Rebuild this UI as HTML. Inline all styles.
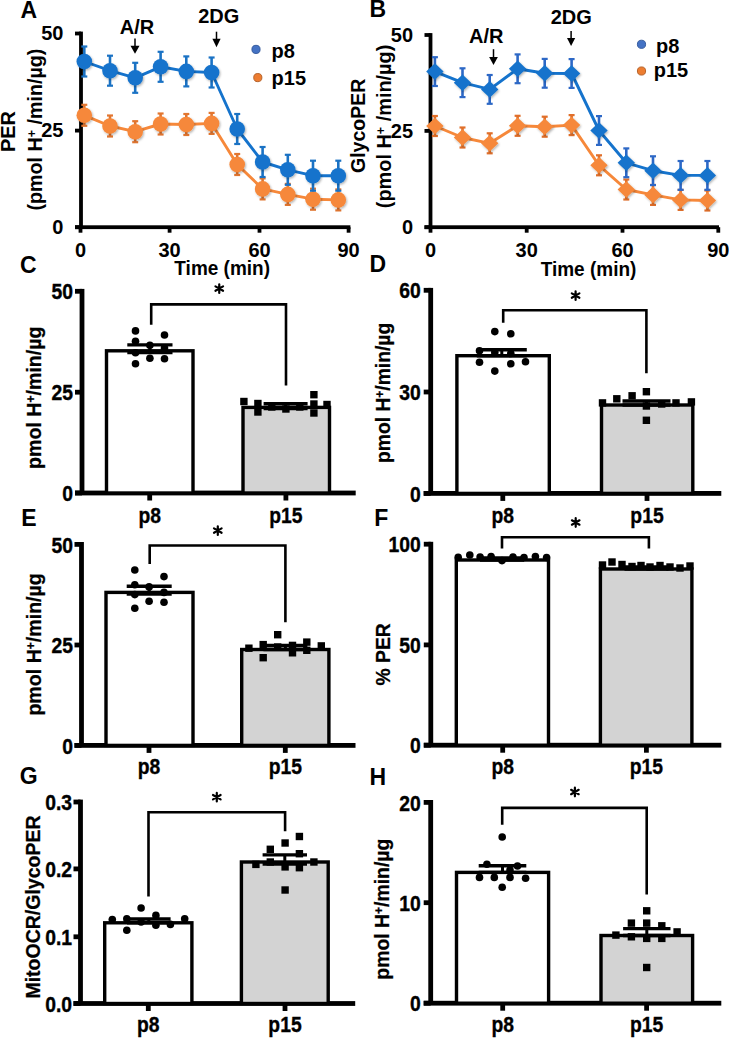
<!DOCTYPE html>
<html><head><meta charset="utf-8"><style>
html,body{margin:0;padding:0;background:#fff;}
svg{display:block;font-family:"Liberation Sans", sans-serif;}
</style></head><body>
<svg width="729" height="1039" viewBox="0 0 729 1039">
<defs><filter id="sh" x="-50%" y="-50%" width="200%" height="200%"><feDropShadow dx="1" dy="1.3" stdDeviation="1" flood-color="#000" flood-opacity="0.3"/></filter></defs>
<rect width="729" height="1039" fill="#fff"/>
<rect x="79.1" y="31.6" width="3.8" height="195.6" fill="#000"/>
<rect x="75" y="31.6" width="6" height="3.8" fill="#000"/>
<rect x="75" y="128.7" width="6" height="3.8" fill="#000"/>
<rect x="75" y="225.29999999999998" width="6" height="3.8" fill="#000"/>
<rect x="75" y="225.29999999999998" width="275.4" height="3.8" fill="#000"/>
<rect x="78.6" y="227.2" width="3.8" height="5.5" fill="#000"/>
<rect x="167.7" y="227.2" width="3.8" height="5.5" fill="#000"/>
<rect x="257.6" y="227.2" width="3.8" height="5.5" fill="#000"/>
<rect x="346.70000000000005" y="227.2" width="3.8" height="5.5" fill="#000"/>
<text transform="translate(63.4 40.1)" font-size="20" text-anchor="end" font-weight="bold">50</text>
<text transform="translate(63.4 137.2)" font-size="20" text-anchor="end" font-weight="bold">25</text>
<text transform="translate(63.4 233.79999999999998)" font-size="20" text-anchor="end" font-weight="bold">0</text>
<text transform="translate(80.5 256.9)" font-size="20" text-anchor="middle" font-weight="bold">0</text>
<text transform="translate(169.6 256.9)" font-size="20" text-anchor="middle" font-weight="bold">30</text>
<text transform="translate(259.5 256.9)" font-size="20" text-anchor="middle" font-weight="bold">60</text>
<text transform="translate(348.6 256.9)" font-size="20" text-anchor="middle" font-weight="bold">90</text>
<text transform="translate(222.2 275.3) scale(1 1.1)" font-size="19" text-anchor="middle" font-weight="bold">Time (min)</text>
<path d="M84.3,115.3 L110,126 L135.2,131.7 L160.6,124 L186.3,124.5 L211.6,123.4 L237.2,164.5 L262.6,188.9 L287.8,194.4 L313,199.2 L338.3,199.9" fill="none" stroke="#f6883a" stroke-width="2.9" stroke-linejoin="round"/>
<line x1="84.3" y1="104.8" x2="84.3" y2="125.8" stroke="#e27630" stroke-width="2.6" stroke-linecap="butt"/>
<line x1="81.3" y1="104.8" x2="87.3" y2="104.8" stroke="#e27630" stroke-width="2.2" stroke-linecap="butt"/>
<line x1="81.3" y1="125.8" x2="87.3" y2="125.8" stroke="#e27630" stroke-width="2.2" stroke-linecap="butt"/>
<line x1="110" y1="115.5" x2="110" y2="136.5" stroke="#e27630" stroke-width="2.6" stroke-linecap="butt"/>
<line x1="107" y1="115.5" x2="113" y2="115.5" stroke="#e27630" stroke-width="2.2" stroke-linecap="butt"/>
<line x1="107" y1="136.5" x2="113" y2="136.5" stroke="#e27630" stroke-width="2.2" stroke-linecap="butt"/>
<line x1="135.2" y1="121.19999999999999" x2="135.2" y2="142.2" stroke="#e27630" stroke-width="2.6" stroke-linecap="butt"/>
<line x1="132.2" y1="121.19999999999999" x2="138.2" y2="121.19999999999999" stroke="#e27630" stroke-width="2.2" stroke-linecap="butt"/>
<line x1="132.2" y1="142.2" x2="138.2" y2="142.2" stroke="#e27630" stroke-width="2.2" stroke-linecap="butt"/>
<line x1="160.6" y1="113.5" x2="160.6" y2="134.5" stroke="#e27630" stroke-width="2.6" stroke-linecap="butt"/>
<line x1="157.6" y1="113.5" x2="163.6" y2="113.5" stroke="#e27630" stroke-width="2.2" stroke-linecap="butt"/>
<line x1="157.6" y1="134.5" x2="163.6" y2="134.5" stroke="#e27630" stroke-width="2.2" stroke-linecap="butt"/>
<line x1="186.3" y1="114.0" x2="186.3" y2="135.0" stroke="#e27630" stroke-width="2.6" stroke-linecap="butt"/>
<line x1="183.3" y1="114.0" x2="189.3" y2="114.0" stroke="#e27630" stroke-width="2.2" stroke-linecap="butt"/>
<line x1="183.3" y1="135.0" x2="189.3" y2="135.0" stroke="#e27630" stroke-width="2.2" stroke-linecap="butt"/>
<line x1="211.6" y1="112.9" x2="211.6" y2="133.9" stroke="#e27630" stroke-width="2.6" stroke-linecap="butt"/>
<line x1="208.6" y1="112.9" x2="214.6" y2="112.9" stroke="#e27630" stroke-width="2.2" stroke-linecap="butt"/>
<line x1="208.6" y1="133.9" x2="214.6" y2="133.9" stroke="#e27630" stroke-width="2.2" stroke-linecap="butt"/>
<line x1="237.2" y1="154.0" x2="237.2" y2="175.0" stroke="#e27630" stroke-width="2.6" stroke-linecap="butt"/>
<line x1="234.2" y1="154.0" x2="240.2" y2="154.0" stroke="#e27630" stroke-width="2.2" stroke-linecap="butt"/>
<line x1="234.2" y1="175.0" x2="240.2" y2="175.0" stroke="#e27630" stroke-width="2.2" stroke-linecap="butt"/>
<line x1="262.6" y1="178.4" x2="262.6" y2="199.4" stroke="#e27630" stroke-width="2.6" stroke-linecap="butt"/>
<line x1="259.6" y1="178.4" x2="265.6" y2="178.4" stroke="#e27630" stroke-width="2.2" stroke-linecap="butt"/>
<line x1="259.6" y1="199.4" x2="265.6" y2="199.4" stroke="#e27630" stroke-width="2.2" stroke-linecap="butt"/>
<line x1="287.8" y1="183.9" x2="287.8" y2="204.9" stroke="#e27630" stroke-width="2.6" stroke-linecap="butt"/>
<line x1="284.8" y1="183.9" x2="290.8" y2="183.9" stroke="#e27630" stroke-width="2.2" stroke-linecap="butt"/>
<line x1="284.8" y1="204.9" x2="290.8" y2="204.9" stroke="#e27630" stroke-width="2.2" stroke-linecap="butt"/>
<line x1="313" y1="188.7" x2="313" y2="209.7" stroke="#e27630" stroke-width="2.6" stroke-linecap="butt"/>
<line x1="310" y1="188.7" x2="316" y2="188.7" stroke="#e27630" stroke-width="2.2" stroke-linecap="butt"/>
<line x1="310" y1="209.7" x2="316" y2="209.7" stroke="#e27630" stroke-width="2.2" stroke-linecap="butt"/>
<line x1="338.3" y1="189.4" x2="338.3" y2="210.4" stroke="#e27630" stroke-width="2.6" stroke-linecap="butt"/>
<line x1="335.3" y1="189.4" x2="341.3" y2="189.4" stroke="#e27630" stroke-width="2.2" stroke-linecap="butt"/>
<line x1="335.3" y1="210.4" x2="341.3" y2="210.4" stroke="#e27630" stroke-width="2.2" stroke-linecap="butt"/>
<circle cx="84.3" cy="115.3" r="7.8" fill="#f6883a" filter="url(#sh)"/>
<circle cx="110" cy="126" r="7.8" fill="#f6883a" filter="url(#sh)"/>
<circle cx="135.2" cy="131.7" r="7.8" fill="#f6883a" filter="url(#sh)"/>
<circle cx="160.6" cy="124" r="7.8" fill="#f6883a" filter="url(#sh)"/>
<circle cx="186.3" cy="124.5" r="7.8" fill="#f6883a" filter="url(#sh)"/>
<circle cx="211.6" cy="123.4" r="7.8" fill="#f6883a" filter="url(#sh)"/>
<circle cx="237.2" cy="164.5" r="7.8" fill="#f6883a" filter="url(#sh)"/>
<circle cx="262.6" cy="188.9" r="7.8" fill="#f6883a" filter="url(#sh)"/>
<circle cx="287.8" cy="194.4" r="7.8" fill="#f6883a" filter="url(#sh)"/>
<circle cx="313" cy="199.2" r="7.8" fill="#f6883a" filter="url(#sh)"/>
<circle cx="338.3" cy="199.9" r="7.8" fill="#f6883a" filter="url(#sh)"/>
<path d="M84.3,61.5 L110,70.7 L135.2,77.8 L160.6,66.8 L186.3,71.4 L211.6,72.5 L237.2,129 L262.6,162 L287.8,169.8 L313,175.7 L338.3,175.7" fill="none" stroke="#1573cc" stroke-width="2.9" stroke-linejoin="round"/>
<line x1="84.3" y1="46.5" x2="84.3" y2="76.5" stroke="#1a72c4" stroke-width="2.6" stroke-linecap="butt"/>
<line x1="81.3" y1="46.5" x2="87.3" y2="46.5" stroke="#1a72c4" stroke-width="2.2" stroke-linecap="butt"/>
<line x1="81.3" y1="76.5" x2="87.3" y2="76.5" stroke="#1a72c4" stroke-width="2.2" stroke-linecap="butt"/>
<line x1="110" y1="55.7" x2="110" y2="85.7" stroke="#1a72c4" stroke-width="2.6" stroke-linecap="butt"/>
<line x1="107" y1="55.7" x2="113" y2="55.7" stroke="#1a72c4" stroke-width="2.2" stroke-linecap="butt"/>
<line x1="107" y1="85.7" x2="113" y2="85.7" stroke="#1a72c4" stroke-width="2.2" stroke-linecap="butt"/>
<line x1="135.2" y1="62.8" x2="135.2" y2="92.8" stroke="#1a72c4" stroke-width="2.6" stroke-linecap="butt"/>
<line x1="132.2" y1="62.8" x2="138.2" y2="62.8" stroke="#1a72c4" stroke-width="2.2" stroke-linecap="butt"/>
<line x1="132.2" y1="92.8" x2="138.2" y2="92.8" stroke="#1a72c4" stroke-width="2.2" stroke-linecap="butt"/>
<line x1="160.6" y1="51.8" x2="160.6" y2="81.8" stroke="#1a72c4" stroke-width="2.6" stroke-linecap="butt"/>
<line x1="157.6" y1="51.8" x2="163.6" y2="51.8" stroke="#1a72c4" stroke-width="2.2" stroke-linecap="butt"/>
<line x1="157.6" y1="81.8" x2="163.6" y2="81.8" stroke="#1a72c4" stroke-width="2.2" stroke-linecap="butt"/>
<line x1="186.3" y1="56.400000000000006" x2="186.3" y2="86.4" stroke="#1a72c4" stroke-width="2.6" stroke-linecap="butt"/>
<line x1="183.3" y1="56.400000000000006" x2="189.3" y2="56.400000000000006" stroke="#1a72c4" stroke-width="2.2" stroke-linecap="butt"/>
<line x1="183.3" y1="86.4" x2="189.3" y2="86.4" stroke="#1a72c4" stroke-width="2.2" stroke-linecap="butt"/>
<line x1="211.6" y1="57.5" x2="211.6" y2="87.5" stroke="#1a72c4" stroke-width="2.6" stroke-linecap="butt"/>
<line x1="208.6" y1="57.5" x2="214.6" y2="57.5" stroke="#1a72c4" stroke-width="2.2" stroke-linecap="butt"/>
<line x1="208.6" y1="87.5" x2="214.6" y2="87.5" stroke="#1a72c4" stroke-width="2.2" stroke-linecap="butt"/>
<line x1="237.2" y1="114" x2="237.2" y2="144" stroke="#1a72c4" stroke-width="2.6" stroke-linecap="butt"/>
<line x1="234.2" y1="114" x2="240.2" y2="114" stroke="#1a72c4" stroke-width="2.2" stroke-linecap="butt"/>
<line x1="234.2" y1="144" x2="240.2" y2="144" stroke="#1a72c4" stroke-width="2.2" stroke-linecap="butt"/>
<line x1="262.6" y1="147" x2="262.6" y2="177" stroke="#1a72c4" stroke-width="2.6" stroke-linecap="butt"/>
<line x1="259.6" y1="147" x2="265.6" y2="147" stroke="#1a72c4" stroke-width="2.2" stroke-linecap="butt"/>
<line x1="259.6" y1="177" x2="265.6" y2="177" stroke="#1a72c4" stroke-width="2.2" stroke-linecap="butt"/>
<line x1="287.8" y1="154.8" x2="287.8" y2="184.8" stroke="#1a72c4" stroke-width="2.6" stroke-linecap="butt"/>
<line x1="284.8" y1="154.8" x2="290.8" y2="154.8" stroke="#1a72c4" stroke-width="2.2" stroke-linecap="butt"/>
<line x1="284.8" y1="184.8" x2="290.8" y2="184.8" stroke="#1a72c4" stroke-width="2.2" stroke-linecap="butt"/>
<line x1="313" y1="160.7" x2="313" y2="190.7" stroke="#1a72c4" stroke-width="2.6" stroke-linecap="butt"/>
<line x1="310" y1="160.7" x2="316" y2="160.7" stroke="#1a72c4" stroke-width="2.2" stroke-linecap="butt"/>
<line x1="310" y1="190.7" x2="316" y2="190.7" stroke="#1a72c4" stroke-width="2.2" stroke-linecap="butt"/>
<line x1="338.3" y1="160.7" x2="338.3" y2="190.7" stroke="#1a72c4" stroke-width="2.6" stroke-linecap="butt"/>
<line x1="335.3" y1="160.7" x2="341.3" y2="160.7" stroke="#1a72c4" stroke-width="2.2" stroke-linecap="butt"/>
<line x1="335.3" y1="190.7" x2="341.3" y2="190.7" stroke="#1a72c4" stroke-width="2.2" stroke-linecap="butt"/>
<circle cx="84.3" cy="61.5" r="7.8" fill="#1573cc" filter="url(#sh)"/>
<circle cx="110" cy="70.7" r="7.8" fill="#1573cc" filter="url(#sh)"/>
<circle cx="135.2" cy="77.8" r="7.8" fill="#1573cc" filter="url(#sh)"/>
<circle cx="160.6" cy="66.8" r="7.8" fill="#1573cc" filter="url(#sh)"/>
<circle cx="186.3" cy="71.4" r="7.8" fill="#1573cc" filter="url(#sh)"/>
<circle cx="211.6" cy="72.5" r="7.8" fill="#1573cc" filter="url(#sh)"/>
<circle cx="237.2" cy="129" r="7.8" fill="#1573cc" filter="url(#sh)"/>
<circle cx="262.6" cy="162" r="7.8" fill="#1573cc" filter="url(#sh)"/>
<circle cx="287.8" cy="169.8" r="7.8" fill="#1573cc" filter="url(#sh)"/>
<circle cx="313" cy="175.7" r="7.8" fill="#1573cc" filter="url(#sh)"/>
<circle cx="338.3" cy="175.7" r="7.8" fill="#1573cc" filter="url(#sh)"/>
<text transform="translate(137 34.1)" font-size="20" text-anchor="middle" font-weight="bold">A/R</text>
<line x1="135" y1="38.6" x2="135" y2="46.7" stroke="#000" stroke-width="1.5" stroke-linecap="butt"/>
<path d="M130.5,45.7 L139.5,45.7 L135,53.8 Z" fill="#000"/>
<text transform="translate(218.8 22.5)" font-size="20" text-anchor="middle" font-weight="bold">2DG</text>
<line x1="216.5" y1="31.7" x2="216.5" y2="39.7" stroke="#000" stroke-width="1.5" stroke-linecap="butt"/>
<path d="M212.4,38.7 L220.6,38.7 L216.5,47.3 Z" fill="#000"/>
<circle cx="256" cy="49.4" r="4.1" fill="#4472c4" stroke="#2f5597" stroke-width="0.9"/>
<text transform="translate(271.6 57.8)" font-size="20" text-anchor="start" font-weight="bold">p8</text>
<circle cx="257.8" cy="77.6" r="4.1" fill="#ed7d31" stroke="#ae5a21" stroke-width="0.9"/>
<text transform="translate(271.6 84.5)" font-size="20" text-anchor="start" font-weight="bold">p15</text>
<text transform="translate(15.2 131.5) rotate(-90)" font-size="20" text-anchor="middle" font-weight="bold">PER</text>
<text transform="translate(41.8 129.6) rotate(-90)" font-size="19.7" text-anchor="middle" font-weight="bold">(pmol H<tspan font-size="12.5" dy="-6">+</tspan><tspan dy="6"> /min/µg)</tspan></text>
<text transform="translate(364.8 125.9) rotate(-90)" font-size="19.5" text-anchor="middle" font-weight="bold">GlycoPER</text>
<text transform="translate(391.2 126.4) rotate(-90)" font-size="19.9" text-anchor="middle" font-weight="bold">(pmol H<tspan font-size="12.5" dy="-6">+</tspan><tspan dy="6"> /min/µg)</tspan></text>
<rect x="428.6" y="33.1" width="3.8" height="194.1" fill="#000"/>
<rect x="424.5" y="33.1" width="6" height="3.8" fill="#000"/>
<rect x="424.5" y="129.0" width="6" height="3.8" fill="#000"/>
<rect x="424.5" y="225.29999999999998" width="6" height="3.8" fill="#000"/>
<rect x="424.5" y="225.29999999999998" width="294.5" height="3.8" fill="#000"/>
<rect x="428.6" y="227.2" width="3.8" height="5.5" fill="#000"/>
<rect x="524.8000000000001" y="227.2" width="3.8" height="5.5" fill="#000"/>
<rect x="620.6" y="227.2" width="3.8" height="5.5" fill="#000"/>
<rect x="716.4" y="227.2" width="3.8" height="5.5" fill="#000"/>
<text transform="translate(413.1 41.6)" font-size="20" text-anchor="end" font-weight="bold">50</text>
<text transform="translate(413.1 137.5)" font-size="20" text-anchor="end" font-weight="bold">25</text>
<text transform="translate(413.1 233.79999999999998)" font-size="20" text-anchor="end" font-weight="bold">0</text>
<text transform="translate(430.5 256.8)" font-size="20" text-anchor="middle" font-weight="bold">0</text>
<text transform="translate(526.7 256.8)" font-size="20" text-anchor="middle" font-weight="bold">30</text>
<text transform="translate(622.5 256.8)" font-size="20" text-anchor="middle" font-weight="bold">60</text>
<text transform="translate(718.3 256.8)" font-size="20" text-anchor="middle" font-weight="bold">90</text>
<text transform="translate(588.5 275.5) scale(1 1.1)" font-size="19" text-anchor="middle" font-weight="bold">Time (min)</text>
<path d="M434.9,126 L462.5,137.5 L489.7,143.3 L517.6,125.8 L544.7,126.7 L571.6,125.1 L599,165.3 L626.3,189.5 L653,194.9 L680.6,199.9 L707.4,200.5" fill="none" stroke="#f6883a" stroke-width="2.9" stroke-linejoin="round"/>
<line x1="434.9" y1="116" x2="434.9" y2="136" stroke="#e06f2a" stroke-width="2.6" stroke-linecap="butt"/>
<line x1="431.9" y1="116" x2="437.9" y2="116" stroke="#e06f2a" stroke-width="2.2" stroke-linecap="butt"/>
<line x1="431.9" y1="136" x2="437.9" y2="136" stroke="#e06f2a" stroke-width="2.2" stroke-linecap="butt"/>
<line x1="462.5" y1="127.5" x2="462.5" y2="147.5" stroke="#e06f2a" stroke-width="2.6" stroke-linecap="butt"/>
<line x1="459.5" y1="127.5" x2="465.5" y2="127.5" stroke="#e06f2a" stroke-width="2.2" stroke-linecap="butt"/>
<line x1="459.5" y1="147.5" x2="465.5" y2="147.5" stroke="#e06f2a" stroke-width="2.2" stroke-linecap="butt"/>
<line x1="489.7" y1="133.3" x2="489.7" y2="153.3" stroke="#e06f2a" stroke-width="2.6" stroke-linecap="butt"/>
<line x1="486.7" y1="133.3" x2="492.7" y2="133.3" stroke="#e06f2a" stroke-width="2.2" stroke-linecap="butt"/>
<line x1="486.7" y1="153.3" x2="492.7" y2="153.3" stroke="#e06f2a" stroke-width="2.2" stroke-linecap="butt"/>
<line x1="517.6" y1="115.8" x2="517.6" y2="135.8" stroke="#e06f2a" stroke-width="2.6" stroke-linecap="butt"/>
<line x1="514.6" y1="115.8" x2="520.6" y2="115.8" stroke="#e06f2a" stroke-width="2.2" stroke-linecap="butt"/>
<line x1="514.6" y1="135.8" x2="520.6" y2="135.8" stroke="#e06f2a" stroke-width="2.2" stroke-linecap="butt"/>
<line x1="544.7" y1="116.7" x2="544.7" y2="136.7" stroke="#e06f2a" stroke-width="2.6" stroke-linecap="butt"/>
<line x1="541.7" y1="116.7" x2="547.7" y2="116.7" stroke="#e06f2a" stroke-width="2.2" stroke-linecap="butt"/>
<line x1="541.7" y1="136.7" x2="547.7" y2="136.7" stroke="#e06f2a" stroke-width="2.2" stroke-linecap="butt"/>
<line x1="571.6" y1="115.1" x2="571.6" y2="135.1" stroke="#e06f2a" stroke-width="2.6" stroke-linecap="butt"/>
<line x1="568.6" y1="115.1" x2="574.6" y2="115.1" stroke="#e06f2a" stroke-width="2.2" stroke-linecap="butt"/>
<line x1="568.6" y1="135.1" x2="574.6" y2="135.1" stroke="#e06f2a" stroke-width="2.2" stroke-linecap="butt"/>
<line x1="599" y1="155.3" x2="599" y2="175.3" stroke="#e06f2a" stroke-width="2.6" stroke-linecap="butt"/>
<line x1="596" y1="155.3" x2="602" y2="155.3" stroke="#e06f2a" stroke-width="2.2" stroke-linecap="butt"/>
<line x1="596" y1="175.3" x2="602" y2="175.3" stroke="#e06f2a" stroke-width="2.2" stroke-linecap="butt"/>
<line x1="626.3" y1="179.5" x2="626.3" y2="199.5" stroke="#e06f2a" stroke-width="2.6" stroke-linecap="butt"/>
<line x1="623.3" y1="179.5" x2="629.3" y2="179.5" stroke="#e06f2a" stroke-width="2.2" stroke-linecap="butt"/>
<line x1="623.3" y1="199.5" x2="629.3" y2="199.5" stroke="#e06f2a" stroke-width="2.2" stroke-linecap="butt"/>
<line x1="653" y1="184.9" x2="653" y2="204.9" stroke="#e06f2a" stroke-width="2.6" stroke-linecap="butt"/>
<line x1="650" y1="184.9" x2="656" y2="184.9" stroke="#e06f2a" stroke-width="2.2" stroke-linecap="butt"/>
<line x1="650" y1="204.9" x2="656" y2="204.9" stroke="#e06f2a" stroke-width="2.2" stroke-linecap="butt"/>
<line x1="680.6" y1="189.9" x2="680.6" y2="209.9" stroke="#e06f2a" stroke-width="2.6" stroke-linecap="butt"/>
<line x1="677.6" y1="189.9" x2="683.6" y2="189.9" stroke="#e06f2a" stroke-width="2.2" stroke-linecap="butt"/>
<line x1="677.6" y1="209.9" x2="683.6" y2="209.9" stroke="#e06f2a" stroke-width="2.2" stroke-linecap="butt"/>
<line x1="707.4" y1="190.5" x2="707.4" y2="210.5" stroke="#e06f2a" stroke-width="2.6" stroke-linecap="butt"/>
<line x1="704.4" y1="190.5" x2="710.4" y2="190.5" stroke="#e06f2a" stroke-width="2.2" stroke-linecap="butt"/>
<line x1="704.4" y1="210.5" x2="710.4" y2="210.5" stroke="#e06f2a" stroke-width="2.2" stroke-linecap="butt"/>
<path d="M434.9,117.7 L443.59999999999997,126 L434.9,134.3 L426.2,126 Z" fill="#f6883a" filter="url(#sh)"/>
<path d="M462.5,129.2 L471.2,137.5 L462.5,145.8 L453.8,137.5 Z" fill="#f6883a" filter="url(#sh)"/>
<path d="M489.7,135.0 L498.4,143.3 L489.7,151.60000000000002 L481.0,143.3 Z" fill="#f6883a" filter="url(#sh)"/>
<path d="M517.6,117.5 L526.3000000000001,125.8 L517.6,134.1 L508.90000000000003,125.8 Z" fill="#f6883a" filter="url(#sh)"/>
<path d="M544.7,118.4 L553.4000000000001,126.7 L544.7,135.0 L536.0,126.7 Z" fill="#f6883a" filter="url(#sh)"/>
<path d="M571.6,116.8 L580.3000000000001,125.1 L571.6,133.4 L562.9,125.1 Z" fill="#f6883a" filter="url(#sh)"/>
<path d="M599,157.0 L607.7,165.3 L599,173.60000000000002 L590.3,165.3 Z" fill="#f6883a" filter="url(#sh)"/>
<path d="M626.3,181.2 L635.0,189.5 L626.3,197.8 L617.5999999999999,189.5 Z" fill="#f6883a" filter="url(#sh)"/>
<path d="M653,186.6 L661.7,194.9 L653,203.20000000000002 L644.3,194.9 Z" fill="#f6883a" filter="url(#sh)"/>
<path d="M680.6,191.6 L689.3000000000001,199.9 L680.6,208.20000000000002 L671.9,199.9 Z" fill="#f6883a" filter="url(#sh)"/>
<path d="M707.4,192.2 L716.1,200.5 L707.4,208.8 L698.6999999999999,200.5 Z" fill="#f6883a" filter="url(#sh)"/>
<path d="M434.9,71.6 L462.5,82.7 L489.7,89.4 L517.6,68.8 L544.7,73.3 L571.6,73.5 L599,130.5 L626.3,162.8 L653,170.7 L680.6,175.4 L707.4,175.4" fill="none" stroke="#1573cc" stroke-width="2.9" stroke-linejoin="round"/>
<line x1="434.9" y1="57.199999999999996" x2="434.9" y2="86.0" stroke="#2d68c6" stroke-width="2.6" stroke-linecap="butt"/>
<line x1="431.9" y1="57.199999999999996" x2="437.9" y2="57.199999999999996" stroke="#2d68c6" stroke-width="2.2" stroke-linecap="butt"/>
<line x1="431.9" y1="86.0" x2="437.9" y2="86.0" stroke="#2d68c6" stroke-width="2.2" stroke-linecap="butt"/>
<line x1="462.5" y1="68.3" x2="462.5" y2="97.10000000000001" stroke="#2d68c6" stroke-width="2.6" stroke-linecap="butt"/>
<line x1="459.5" y1="68.3" x2="465.5" y2="68.3" stroke="#2d68c6" stroke-width="2.2" stroke-linecap="butt"/>
<line x1="459.5" y1="97.10000000000001" x2="465.5" y2="97.10000000000001" stroke="#2d68c6" stroke-width="2.2" stroke-linecap="butt"/>
<line x1="489.7" y1="75.0" x2="489.7" y2="103.80000000000001" stroke="#2d68c6" stroke-width="2.6" stroke-linecap="butt"/>
<line x1="486.7" y1="75.0" x2="492.7" y2="75.0" stroke="#2d68c6" stroke-width="2.2" stroke-linecap="butt"/>
<line x1="486.7" y1="103.80000000000001" x2="492.7" y2="103.80000000000001" stroke="#2d68c6" stroke-width="2.2" stroke-linecap="butt"/>
<line x1="517.6" y1="54.4" x2="517.6" y2="83.2" stroke="#2d68c6" stroke-width="2.6" stroke-linecap="butt"/>
<line x1="514.6" y1="54.4" x2="520.6" y2="54.4" stroke="#2d68c6" stroke-width="2.2" stroke-linecap="butt"/>
<line x1="514.6" y1="83.2" x2="520.6" y2="83.2" stroke="#2d68c6" stroke-width="2.2" stroke-linecap="butt"/>
<line x1="544.7" y1="58.9" x2="544.7" y2="87.7" stroke="#2d68c6" stroke-width="2.6" stroke-linecap="butt"/>
<line x1="541.7" y1="58.9" x2="547.7" y2="58.9" stroke="#2d68c6" stroke-width="2.2" stroke-linecap="butt"/>
<line x1="541.7" y1="87.7" x2="547.7" y2="87.7" stroke="#2d68c6" stroke-width="2.2" stroke-linecap="butt"/>
<line x1="571.6" y1="59.1" x2="571.6" y2="87.9" stroke="#2d68c6" stroke-width="2.6" stroke-linecap="butt"/>
<line x1="568.6" y1="59.1" x2="574.6" y2="59.1" stroke="#2d68c6" stroke-width="2.2" stroke-linecap="butt"/>
<line x1="568.6" y1="87.9" x2="574.6" y2="87.9" stroke="#2d68c6" stroke-width="2.2" stroke-linecap="butt"/>
<line x1="599" y1="116.1" x2="599" y2="144.9" stroke="#2d68c6" stroke-width="2.6" stroke-linecap="butt"/>
<line x1="596" y1="116.1" x2="602" y2="116.1" stroke="#2d68c6" stroke-width="2.2" stroke-linecap="butt"/>
<line x1="596" y1="144.9" x2="602" y2="144.9" stroke="#2d68c6" stroke-width="2.2" stroke-linecap="butt"/>
<line x1="626.3" y1="148.4" x2="626.3" y2="177.20000000000002" stroke="#2d68c6" stroke-width="2.6" stroke-linecap="butt"/>
<line x1="623.3" y1="148.4" x2="629.3" y2="148.4" stroke="#2d68c6" stroke-width="2.2" stroke-linecap="butt"/>
<line x1="623.3" y1="177.20000000000002" x2="629.3" y2="177.20000000000002" stroke="#2d68c6" stroke-width="2.2" stroke-linecap="butt"/>
<line x1="653" y1="156.29999999999998" x2="653" y2="185.1" stroke="#2d68c6" stroke-width="2.6" stroke-linecap="butt"/>
<line x1="650" y1="156.29999999999998" x2="656" y2="156.29999999999998" stroke="#2d68c6" stroke-width="2.2" stroke-linecap="butt"/>
<line x1="650" y1="185.1" x2="656" y2="185.1" stroke="#2d68c6" stroke-width="2.2" stroke-linecap="butt"/>
<line x1="680.6" y1="161.0" x2="680.6" y2="189.8" stroke="#2d68c6" stroke-width="2.6" stroke-linecap="butt"/>
<line x1="677.6" y1="161.0" x2="683.6" y2="161.0" stroke="#2d68c6" stroke-width="2.2" stroke-linecap="butt"/>
<line x1="677.6" y1="189.8" x2="683.6" y2="189.8" stroke="#2d68c6" stroke-width="2.2" stroke-linecap="butt"/>
<line x1="707.4" y1="161.0" x2="707.4" y2="189.8" stroke="#2d68c6" stroke-width="2.6" stroke-linecap="butt"/>
<line x1="704.4" y1="161.0" x2="710.4" y2="161.0" stroke="#2d68c6" stroke-width="2.2" stroke-linecap="butt"/>
<line x1="704.4" y1="189.8" x2="710.4" y2="189.8" stroke="#2d68c6" stroke-width="2.2" stroke-linecap="butt"/>
<path d="M434.9,63.3 L443.59999999999997,71.6 L434.9,79.89999999999999 L426.2,71.6 Z" fill="#1573cc" filter="url(#sh)"/>
<path d="M462.5,74.4 L471.2,82.7 L462.5,91.0 L453.8,82.7 Z" fill="#1573cc" filter="url(#sh)"/>
<path d="M489.7,81.10000000000001 L498.4,89.4 L489.7,97.7 L481.0,89.4 Z" fill="#1573cc" filter="url(#sh)"/>
<path d="M517.6,60.5 L526.3000000000001,68.8 L517.6,77.1 L508.90000000000003,68.8 Z" fill="#1573cc" filter="url(#sh)"/>
<path d="M544.7,65.0 L553.4000000000001,73.3 L544.7,81.6 L536.0,73.3 Z" fill="#1573cc" filter="url(#sh)"/>
<path d="M571.6,65.2 L580.3000000000001,73.5 L571.6,81.8 L562.9,73.5 Z" fill="#1573cc" filter="url(#sh)"/>
<path d="M599,122.2 L607.7,130.5 L599,138.8 L590.3,130.5 Z" fill="#1573cc" filter="url(#sh)"/>
<path d="M626.3,154.5 L635.0,162.8 L626.3,171.10000000000002 L617.5999999999999,162.8 Z" fill="#1573cc" filter="url(#sh)"/>
<path d="M653,162.39999999999998 L661.7,170.7 L653,179.0 L644.3,170.7 Z" fill="#1573cc" filter="url(#sh)"/>
<path d="M680.6,167.1 L689.3000000000001,175.4 L680.6,183.70000000000002 L671.9,175.4 Z" fill="#1573cc" filter="url(#sh)"/>
<path d="M707.4,167.1 L716.1,175.4 L707.4,183.70000000000002 L698.6999999999999,175.4 Z" fill="#1573cc" filter="url(#sh)"/>
<text transform="translate(486.3 43)" font-size="20" text-anchor="middle" font-weight="bold">A/R</text>
<line x1="493.5" y1="49.2" x2="493.5" y2="58" stroke="#000" stroke-width="1.5" stroke-linecap="butt"/>
<path d="M489.15,57 L497.85,57 L493.5,64.9 Z" fill="#000"/>
<text transform="translate(571.2 24.3)" font-size="20" text-anchor="middle" font-weight="bold">2DG</text>
<line x1="571.1" y1="30.9" x2="571.1" y2="38.9" stroke="#000" stroke-width="1.5" stroke-linecap="butt"/>
<path d="M567.0,37.9 L575.2,37.9 L571.1,46.1 Z" fill="#000"/>
<circle cx="641.5" cy="44.3" r="4.1" fill="#4472c4" stroke="#2f5597" stroke-width="0.9"/>
<text transform="translate(656.1 52.6)" font-size="20" text-anchor="start" font-weight="bold">p8</text>
<circle cx="641.5" cy="71" r="4.1" fill="#ed7d31" stroke="#ae5a21" stroke-width="0.9"/>
<text transform="translate(653.7 76.7)" font-size="20" text-anchor="start" font-weight="bold">p15</text>
<rect x="79.6" y="288.90000000000003" width="4.8" height="204.1" fill="#000"/>
<rect x="75" y="490.6" width="7" height="4.8" fill="#000"/>
<text transform="translate(73 501.1) scale(1 1.16)" font-size="19.3" text-anchor="end" font-weight="bold" stroke="#000" stroke-width="0.35">0</text>
<rect x="75" y="389.8" width="7" height="4.8" fill="#000"/>
<text transform="translate(73 400.3) scale(1 1.16)" font-size="19.3" text-anchor="end" font-weight="bold" stroke="#000" stroke-width="0.35">25</text>
<rect x="75" y="288.90000000000003" width="7" height="4.8" fill="#000"/>
<text transform="translate(73 299.40000000000003) scale(1 1.16)" font-size="19.3" text-anchor="end" font-weight="bold" stroke="#000" stroke-width="0.35">50</text>
<rect x="75" y="490.6" width="280.7" height="4.8" fill="#000"/>
<rect x="106.5" y="350.8" width="86.5" height="142.2" fill="#fff" stroke="#000" stroke-width="3.4"/>
<rect x="243" y="407.4" width="86.5" height="85.60000000000002" fill="#d3d3d3" stroke="#000" stroke-width="3.4"/>
<line x1="127.30000000000001" y1="344.9" x2="172.5" y2="344.9" stroke="#000" stroke-width="3.4" stroke-linecap="butt"/>
<line x1="127.30000000000001" y1="352.5" x2="172.5" y2="352.5" stroke="#000" stroke-width="3.4" stroke-linecap="butt"/>
<line x1="149.9" y1="344.9" x2="149.9" y2="352.5" stroke="#000" stroke-width="3" stroke-linecap="butt"/>
<line x1="263.6" y1="403.8" x2="307.6" y2="403.8" stroke="#000" stroke-width="3.4" stroke-linecap="butt"/>
<line x1="263.6" y1="408.5" x2="307.6" y2="408.5" stroke="#000" stroke-width="3.4" stroke-linecap="butt"/>
<line x1="285.6" y1="403.8" x2="285.6" y2="408.5" stroke="#000" stroke-width="3" stroke-linecap="butt"/>
<rect x="147.29999999999998" y="493" width="4.8" height="7.5" fill="#000"/>
<text transform="translate(149.7 522.8) scale(1 1.12)" font-size="19.3" text-anchor="middle" font-weight="bold" stroke="#000" stroke-width="0.3">p8</text>
<rect x="283.5" y="493" width="4.8" height="7.5" fill="#000"/>
<text transform="translate(285.9 522.8) scale(1 1.12)" font-size="19.3" text-anchor="middle" font-weight="bold" stroke="#000" stroke-width="0.3">p15</text>
<circle cx="135.5" cy="330.9" r="3.8" fill="#000"/>
<circle cx="164.5" cy="335" r="3.8" fill="#000"/>
<circle cx="135.5" cy="341.2" r="3.8" fill="#000"/>
<circle cx="149.9" cy="345.3" r="3.8" fill="#000"/>
<circle cx="164.5" cy="348" r="3.8" fill="#000"/>
<circle cx="135.5" cy="352.8" r="3.8" fill="#000"/>
<circle cx="149.9" cy="358.3" r="3.8" fill="#000"/>
<circle cx="164.5" cy="358.7" r="3.8" fill="#000"/>
<circle cx="135.5" cy="363.8" r="3.8" fill="#000"/>
<rect x="240.2" y="397.8" width="7.4" height="7.4" fill="#000"/>
<rect x="254.2" y="399.8" width="7.4" height="7.4" fill="#000"/>
<rect x="254.2" y="408.3" width="7.4" height="7.4" fill="#000"/>
<rect x="268.1" y="403.3" width="7.4" height="7.4" fill="#000"/>
<rect x="282.2" y="405.3" width="7.4" height="7.4" fill="#000"/>
<rect x="296.1" y="403.3" width="7.4" height="7.4" fill="#000"/>
<rect x="310.2" y="391.0" width="7.4" height="7.4" fill="#000"/>
<rect x="310.2" y="400.3" width="7.4" height="7.4" fill="#000"/>
<rect x="310.2" y="409.3" width="7.4" height="7.4" fill="#000"/>
<rect x="323.3" y="400.8" width="7.4" height="7.4" fill="#000"/>
<path d="M151.2,324.7 L151.2,304.4 L286,304.4 L286,385.5" fill="none" stroke="#000" stroke-width="2.6"/>
<path d="M219.25,284.3 V292.90000000000003 M215.45,286.40000000000003 L223.05,290.8 M215.45,290.8 L223.05,286.40000000000003" stroke="#000" stroke-width="2.2" stroke-linecap="round"/>
<text transform="translate(41 397.7) rotate(-90)" font-size="19.6" text-anchor="middle" font-weight="bold" stroke="#000" stroke-width="0.25">pmol H<tspan font-size="12" dy="-6">+</tspan><tspan dy="6">/min/µg</tspan></text>
<rect x="428.3" y="287.90000000000003" width="4.8" height="205.49999999999997" fill="#000"/>
<rect x="423.7" y="491.0" width="7" height="4.8" fill="#000"/>
<text transform="translate(420.8 501.5) scale(1 1.16)" font-size="19.3" text-anchor="end" font-weight="bold" stroke="#000" stroke-width="0.35">0</text>
<rect x="423.7" y="389.6" width="7" height="4.8" fill="#000"/>
<text transform="translate(420.8 400.1) scale(1 1.16)" font-size="19.3" text-anchor="end" font-weight="bold" stroke="#000" stroke-width="0.35">30</text>
<rect x="423.7" y="287.90000000000003" width="7" height="4.8" fill="#000"/>
<text transform="translate(420.8 298.40000000000003) scale(1 1.16)" font-size="19.3" text-anchor="end" font-weight="bold" stroke="#000" stroke-width="0.35">60</text>
<rect x="423.7" y="491.0" width="297.59999999999997" height="4.8" fill="#000"/>
<rect x="456.9" y="355.7" width="92.39999999999998" height="137.7" fill="#fff" stroke="#000" stroke-width="3.4"/>
<rect x="601.5" y="405" width="91.29999999999995" height="88.39999999999998" fill="#d3d3d3" stroke="#000" stroke-width="3.4"/>
<line x1="476.8" y1="349.8" x2="526.8" y2="349.8" stroke="#000" stroke-width="3.4" stroke-linecap="butt"/>
<line x1="476.8" y1="355.7" x2="526.8" y2="355.7" stroke="#000" stroke-width="3.4" stroke-linecap="butt"/>
<line x1="501.8" y1="349.8" x2="501.8" y2="355.7" stroke="#000" stroke-width="3" stroke-linecap="butt"/>
<line x1="622.5" y1="401" x2="670.5" y2="401" stroke="#000" stroke-width="3.4" stroke-linecap="butt"/>
<line x1="622.5" y1="405" x2="670.5" y2="405" stroke="#000" stroke-width="3.4" stroke-linecap="butt"/>
<line x1="646.5" y1="401" x2="646.5" y2="405" stroke="#000" stroke-width="3" stroke-linecap="butt"/>
<rect x="500.40000000000003" y="493.4" width="4.8" height="7.5" fill="#000"/>
<text transform="translate(502.8 522.8) scale(1 1.12)" font-size="19.3" text-anchor="middle" font-weight="bold" stroke="#000" stroke-width="0.3">p8</text>
<rect x="644.6" y="493.4" width="4.8" height="7.5" fill="#000"/>
<text transform="translate(647 522.8) scale(1 1.12)" font-size="19.3" text-anchor="middle" font-weight="bold" stroke="#000" stroke-width="0.3">p15</text>
<circle cx="494.8" cy="331.6" r="3.8" fill="#000"/>
<circle cx="510.8" cy="333.8" r="3.8" fill="#000"/>
<circle cx="479.5" cy="350.7" r="3.8" fill="#000"/>
<circle cx="494.8" cy="352.4" r="3.8" fill="#000"/>
<circle cx="510.8" cy="353.5" r="3.8" fill="#000"/>
<circle cx="479.5" cy="362.3" r="3.8" fill="#000"/>
<circle cx="510.8" cy="363.8" r="3.8" fill="#000"/>
<circle cx="525.5" cy="361.7" r="3.8" fill="#000"/>
<circle cx="494.8" cy="371.1" r="3.8" fill="#000"/>
<rect x="598.8" y="399.2" width="7.4" height="7.4" fill="#000"/>
<rect x="613.1" y="395.1" width="7.4" height="7.4" fill="#000"/>
<rect x="628.4" y="392.1" width="7.4" height="7.4" fill="#000"/>
<rect x="642.7" y="388.0" width="7.4" height="7.4" fill="#000"/>
<rect x="642.7" y="402.3" width="7.4" height="7.4" fill="#000"/>
<rect x="642.7" y="416.6" width="7.4" height="7.4" fill="#000"/>
<rect x="658.0" y="400.3" width="7.4" height="7.4" fill="#000"/>
<rect x="672.3" y="399.2" width="7.4" height="7.4" fill="#000"/>
<rect x="687.7" y="398.2" width="7.4" height="7.4" fill="#000"/>
<path d="M503.2,322.8 L503.2,310.3 L646.4,310.3 L646.4,373.3" fill="none" stroke="#000" stroke-width="2.6"/>
<path d="M575.6,291.3 V299.90000000000003 M571.8000000000001,293.40000000000003 L579.4,297.8 M571.8000000000001,297.8 L579.4,293.40000000000003" stroke="#000" stroke-width="2.2" stroke-linecap="round"/>
<text transform="translate(390 392.9) rotate(-90)" font-size="19.3" text-anchor="middle" font-weight="bold" stroke="#000" stroke-width="0.25">pmol H<tspan font-size="12" dy="-6">+</tspan><tspan dy="6">/min/µg</tspan></text>
<rect x="79.1" y="542.0" width="4.8" height="203.4" fill="#000"/>
<rect x="74.5" y="743.0" width="7" height="4.8" fill="#000"/>
<text transform="translate(73 753.5) scale(1 1.16)" font-size="19.3" text-anchor="end" font-weight="bold" stroke="#000" stroke-width="0.35">0</text>
<rect x="74.5" y="642.6" width="7" height="4.8" fill="#000"/>
<text transform="translate(73 653.1) scale(1 1.16)" font-size="19.3" text-anchor="end" font-weight="bold" stroke="#000" stroke-width="0.35">25</text>
<rect x="74.5" y="542.0" width="7" height="4.8" fill="#000"/>
<text transform="translate(73 552.5) scale(1 1.16)" font-size="19.3" text-anchor="end" font-weight="bold" stroke="#000" stroke-width="0.35">50</text>
<rect x="74.5" y="743.0" width="281.0" height="4.8" fill="#000"/>
<rect x="106" y="592.4" width="87" height="153.0" fill="#fff" stroke="#000" stroke-width="3.4"/>
<rect x="241.7" y="649.5" width="87.19999999999999" height="95.89999999999998" fill="#d3d3d3" stroke="#000" stroke-width="3.4"/>
<line x1="126.69999999999999" y1="586.3" x2="171.7" y2="586.3" stroke="#000" stroke-width="3.4" stroke-linecap="butt"/>
<line x1="126.69999999999999" y1="594" x2="171.7" y2="594" stroke="#000" stroke-width="3.4" stroke-linecap="butt"/>
<line x1="149.2" y1="586.3" x2="149.2" y2="594" stroke="#000" stroke-width="3" stroke-linecap="butt"/>
<line x1="263.4" y1="645.5" x2="307.4" y2="645.5" stroke="#000" stroke-width="3.4" stroke-linecap="butt"/>
<line x1="263.4" y1="649.5" x2="307.4" y2="649.5" stroke="#000" stroke-width="3.4" stroke-linecap="butt"/>
<line x1="285.4" y1="645.5" x2="285.4" y2="649.5" stroke="#000" stroke-width="3" stroke-linecap="butt"/>
<rect x="146.6" y="745.4" width="4.8" height="7.5" fill="#000"/>
<text transform="translate(149 774) scale(1 1.12)" font-size="19.3" text-anchor="middle" font-weight="bold" stroke="#000" stroke-width="0.3">p8</text>
<rect x="282.90000000000003" y="745.4" width="4.8" height="7.5" fill="#000"/>
<text transform="translate(285.3 774) scale(1 1.12)" font-size="19.3" text-anchor="middle" font-weight="bold" stroke="#000" stroke-width="0.3">p15</text>
<circle cx="134.8" cy="570" r="3.8" fill="#000"/>
<circle cx="164" cy="576.6" r="3.8" fill="#000"/>
<circle cx="134.8" cy="584.7" r="3.8" fill="#000"/>
<circle cx="149.1" cy="586.9" r="3.8" fill="#000"/>
<circle cx="134.8" cy="594.6" r="3.8" fill="#000"/>
<circle cx="164" cy="592.4" r="3.8" fill="#000"/>
<circle cx="149.1" cy="601.2" r="3.8" fill="#000"/>
<circle cx="164" cy="602.3" r="3.8" fill="#000"/>
<circle cx="134.8" cy="608.2" r="3.8" fill="#000"/>
<rect x="245.2" y="644.5" width="7.4" height="7.4" fill="#000"/>
<rect x="259.5" y="640.9" width="7.4" height="7.4" fill="#000"/>
<rect x="259.5" y="654.0" width="7.4" height="7.4" fill="#000"/>
<rect x="274.0" y="631.0" width="7.4" height="7.4" fill="#000"/>
<rect x="274.0" y="643.3" width="7.4" height="7.4" fill="#000"/>
<rect x="288.8" y="641.7" width="7.4" height="7.4" fill="#000"/>
<rect x="288.8" y="649.1" width="7.4" height="7.4" fill="#000"/>
<rect x="303.1" y="638.4" width="7.4" height="7.4" fill="#000"/>
<rect x="303.1" y="646.6" width="7.4" height="7.4" fill="#000"/>
<rect x="317.6" y="642.2" width="7.4" height="7.4" fill="#000"/>
<path d="M149.7,563.9 L149.7,545.5 L285.4,545.5 L285.4,622.3" fill="none" stroke="#000" stroke-width="2.6"/>
<path d="M217.8,526.3000000000001 V534.9 M214.0,528.4 L221.60000000000002,532.8000000000001 M214.0,532.8000000000001 L221.60000000000002,528.4" stroke="#000" stroke-width="2.2" stroke-linecap="round"/>
<text transform="translate(41 644.4) rotate(-90)" font-size="19.6" text-anchor="middle" font-weight="bold" stroke="#000" stroke-width="0.25">pmol H<tspan font-size="12" dy="-6">+</tspan><tspan dy="6">/min/µg</tspan></text>
<rect x="428.40000000000003" y="541.8000000000001" width="4.8" height="203.4" fill="#000"/>
<rect x="423.8" y="742.8000000000001" width="7" height="4.8" fill="#000"/>
<text transform="translate(420.8 753.3000000000001) scale(1 1.16)" font-size="19.3" text-anchor="end" font-weight="bold" stroke="#000" stroke-width="0.35">0</text>
<rect x="423.8" y="642.5" width="7" height="4.8" fill="#000"/>
<text transform="translate(420.8 653.0) scale(1 1.16)" font-size="19.3" text-anchor="end" font-weight="bold" stroke="#000" stroke-width="0.35">50</text>
<rect x="423.8" y="541.8000000000001" width="7" height="4.8" fill="#000"/>
<text transform="translate(420.8 552.3000000000001) scale(1 1.16)" font-size="19.3" text-anchor="end" font-weight="bold" stroke="#000" stroke-width="0.35">100</text>
<rect x="423.8" y="742.8000000000001" width="297.49999999999994" height="4.8" fill="#000"/>
<rect x="456.3" y="560" width="92.19999999999999" height="185.20000000000005" fill="#fff" stroke="#000" stroke-width="3.4"/>
<rect x="600.4" y="569" width="91.5" height="176.20000000000005" fill="#d3d3d3" stroke="#000" stroke-width="3.4"/>
<line x1="480" y1="558" x2="524" y2="558" stroke="#000" stroke-width="3.4" stroke-linecap="butt"/>
<line x1="480" y1="560" x2="524" y2="560" stroke="#000" stroke-width="3.4" stroke-linecap="butt"/>
<line x1="502" y1="558" x2="502" y2="560" stroke="#000" stroke-width="3" stroke-linecap="butt"/>
<line x1="624.5" y1="567" x2="668.5" y2="567" stroke="#000" stroke-width="3.4" stroke-linecap="butt"/>
<line x1="624.5" y1="569" x2="668.5" y2="569" stroke="#000" stroke-width="3.4" stroke-linecap="butt"/>
<line x1="646.5" y1="567" x2="646.5" y2="569" stroke="#000" stroke-width="3" stroke-linecap="butt"/>
<rect x="500.3" y="745.2" width="4.8" height="7.5" fill="#000"/>
<text transform="translate(502.7 774) scale(1 1.12)" font-size="19.3" text-anchor="middle" font-weight="bold" stroke="#000" stroke-width="0.3">p8</text>
<rect x="644.0" y="745.2" width="4.8" height="7.5" fill="#000"/>
<text transform="translate(646.4 774) scale(1 1.12)" font-size="19.3" text-anchor="middle" font-weight="bold" stroke="#000" stroke-width="0.3">p15</text>
<circle cx="458.2" cy="557.3" r="3.8" fill="#000"/>
<circle cx="469.8" cy="555" r="3.8" fill="#000"/>
<circle cx="480.1" cy="557" r="3.8" fill="#000"/>
<circle cx="491.1" cy="556.5" r="3.8" fill="#000"/>
<circle cx="502" cy="560.6" r="3.8" fill="#000"/>
<circle cx="513" cy="557" r="3.8" fill="#000"/>
<circle cx="524" cy="557.5" r="3.8" fill="#000"/>
<circle cx="535.4" cy="556.5" r="3.8" fill="#000"/>
<circle cx="546.6" cy="557.5" r="3.8" fill="#000"/>
<rect x="598.8" y="561.3" width="7.4" height="7.4" fill="#000"/>
<rect x="608.3" y="558.3" width="7.4" height="7.4" fill="#000"/>
<rect x="618.3" y="560.8" width="7.4" height="7.4" fill="#000"/>
<rect x="628.3" y="562.8" width="7.4" height="7.4" fill="#000"/>
<rect x="637.3" y="561.8" width="7.4" height="7.4" fill="#000"/>
<rect x="646.3" y="563.3" width="7.4" height="7.4" fill="#000"/>
<rect x="656.3" y="561.8" width="7.4" height="7.4" fill="#000"/>
<rect x="666.3" y="563.3" width="7.4" height="7.4" fill="#000"/>
<rect x="676.3" y="564.3" width="7.4" height="7.4" fill="#000"/>
<rect x="686.3" y="562.3" width="7.4" height="7.4" fill="#000"/>
<path d="M502,548.5 L502,537.3 L648.9,537.3 L648.9,548.6" fill="none" stroke="#000" stroke-width="2.6"/>
<path d="M575.7,518.2 V526.8 M571.9000000000001,520.3 L579.5,524.7 M571.9000000000001,524.7 L579.5,520.3" stroke="#000" stroke-width="2.2" stroke-linecap="round"/>
<text transform="translate(389.5 654.4) rotate(-90) scale(0.93 1)" font-size="20.8" text-anchor="middle" font-weight="bold" stroke="#000" stroke-width="0.25">% PER</text>
<rect x="78.1" y="799.6" width="4.8" height="203.9" fill="#000"/>
<rect x="73.5" y="1001.1" width="7" height="4.8" fill="#000"/>
<text transform="translate(72 1011.6) scale(1 1.16)" font-size="19.3" text-anchor="end" font-weight="bold" stroke="#000" stroke-width="0.35">0.0</text>
<rect x="73.5" y="934.4" width="7" height="4.8" fill="#000"/>
<text transform="translate(72 944.9) scale(1 1.16)" font-size="19.3" text-anchor="end" font-weight="bold" stroke="#000" stroke-width="0.35">0.1</text>
<rect x="73.5" y="866.5" width="7" height="4.8" fill="#000"/>
<text transform="translate(72 877.0) scale(1 1.16)" font-size="19.3" text-anchor="end" font-weight="bold" stroke="#000" stroke-width="0.35">0.2</text>
<rect x="73.5" y="799.6" width="7" height="4.8" fill="#000"/>
<text transform="translate(72 810.1) scale(1 1.16)" font-size="19.3" text-anchor="end" font-weight="bold" stroke="#000" stroke-width="0.35">0.3</text>
<rect x="73.5" y="1001.1" width="281.7" height="4.8" fill="#000"/>
<rect x="104.7" y="922.8" width="87.2" height="80.70000000000005" fill="#fff" stroke="#000" stroke-width="3.4"/>
<rect x="241.4" y="862" width="86.79999999999998" height="141.5" fill="#d3d3d3" stroke="#000" stroke-width="3.4"/>
<line x1="127.00000000000001" y1="919" x2="170.60000000000002" y2="919" stroke="#000" stroke-width="3.4" stroke-linecap="butt"/>
<line x1="127.00000000000001" y1="922.8" x2="170.60000000000002" y2="922.8" stroke="#000" stroke-width="3.4" stroke-linecap="butt"/>
<line x1="148.8" y1="919" x2="148.8" y2="922.8" stroke="#000" stroke-width="3" stroke-linecap="butt"/>
<line x1="262.6" y1="854.9" x2="307.0" y2="854.9" stroke="#000" stroke-width="3.4" stroke-linecap="butt"/>
<line x1="262.6" y1="864" x2="307.0" y2="864" stroke="#000" stroke-width="3.4" stroke-linecap="butt"/>
<line x1="284.8" y1="854.9" x2="284.8" y2="864" stroke="#000" stroke-width="3" stroke-linecap="butt"/>
<rect x="145.9" y="1003.5" width="4.8" height="7.5" fill="#000"/>
<text transform="translate(148.3 1032) scale(1 1.12)" font-size="19.3" text-anchor="middle" font-weight="bold" stroke="#000" stroke-width="0.3">p8</text>
<rect x="282.6" y="1003.5" width="4.8" height="7.5" fill="#000"/>
<text transform="translate(285 1032) scale(1 1.12)" font-size="19.3" text-anchor="middle" font-weight="bold" stroke="#000" stroke-width="0.3">p15</text>
<circle cx="112.3" cy="919.5" r="3.8" fill="#000"/>
<circle cx="126.8" cy="918.7" r="3.8" fill="#000"/>
<circle cx="141.1" cy="908" r="3.8" fill="#000"/>
<circle cx="141.1" cy="922" r="3.8" fill="#000"/>
<circle cx="155.9" cy="915.4" r="3.8" fill="#000"/>
<circle cx="155.9" cy="925.3" r="3.8" fill="#000"/>
<circle cx="170.4" cy="924.4" r="3.8" fill="#000"/>
<circle cx="184.7" cy="918.7" r="3.8" fill="#000"/>
<circle cx="126.8" cy="930.2" r="3.8" fill="#000"/>
<rect x="266.6" y="845.6" width="7.4" height="7.4" fill="#000"/>
<rect x="281.4" y="839.3" width="7.4" height="7.4" fill="#000"/>
<rect x="295.7" y="832.8" width="7.4" height="7.4" fill="#000"/>
<rect x="252.2" y="860.7" width="7.4" height="7.4" fill="#000"/>
<rect x="281.4" y="863.2" width="7.4" height="7.4" fill="#000"/>
<rect x="295.7" y="850.0" width="7.4" height="7.4" fill="#000"/>
<rect x="295.7" y="864.0" width="7.4" height="7.4" fill="#000"/>
<rect x="310.2" y="858.3" width="7.4" height="7.4" fill="#000"/>
<rect x="281.4" y="886.3" width="7.4" height="7.4" fill="#000"/>
<rect x="266.6" y="858.3" width="7.4" height="7.4" fill="#000"/>
<path d="M148.5,896.4 L148.5,812.3 L285.1,812.3 L285.1,831.2" fill="none" stroke="#000" stroke-width="2.6"/>
<path d="M216.8,792.9000000000001 V801.5 M213.0,795.0 L220.60000000000002,799.4000000000001 M213.0,799.4000000000001 L220.60000000000002,795.0" stroke="#000" stroke-width="2.2" stroke-linecap="round"/>
<text transform="translate(40.2 907) rotate(-90)" font-size="19.5" text-anchor="middle" font-weight="bold" stroke="#000" stroke-width="0.25">MitoOCR/GlycoPER</text>
<rect x="428.3" y="800.0" width="4.8" height="203.20000000000007" fill="#000"/>
<rect x="423.7" y="1000.8000000000001" width="7" height="4.8" fill="#000"/>
<text transform="translate(420.8 1011.3000000000001) scale(1 1.16)" font-size="19.3" text-anchor="end" font-weight="bold" stroke="#000" stroke-width="0.35">0</text>
<rect x="423.7" y="900.3000000000001" width="7" height="4.8" fill="#000"/>
<text transform="translate(420.8 910.8000000000001) scale(1 1.16)" font-size="19.3" text-anchor="end" font-weight="bold" stroke="#000" stroke-width="0.35">10</text>
<rect x="423.7" y="800.0" width="7" height="4.8" fill="#000"/>
<text transform="translate(420.8 810.5) scale(1 1.16)" font-size="19.3" text-anchor="end" font-weight="bold" stroke="#000" stroke-width="0.35">20</text>
<rect x="423.7" y="1000.8000000000001" width="297.59999999999997" height="4.8" fill="#000"/>
<rect x="456.5" y="872.4" width="92.10000000000002" height="130.80000000000007" fill="#fff" stroke="#000" stroke-width="3.4"/>
<rect x="601" y="935.5" width="91.60000000000002" height="67.70000000000005" fill="#d3d3d3" stroke="#000" stroke-width="3.4"/>
<line x1="478.7" y1="865.8" x2="526.3" y2="865.8" stroke="#000" stroke-width="3.4" stroke-linecap="butt"/>
<line x1="478.7" y1="872.4" x2="526.3" y2="872.4" stroke="#000" stroke-width="3.4" stroke-linecap="butt"/>
<line x1="502.5" y1="865.8" x2="502.5" y2="872.4" stroke="#000" stroke-width="3" stroke-linecap="butt"/>
<line x1="623.0999999999999" y1="928.6" x2="670.5" y2="928.6" stroke="#000" stroke-width="3.4" stroke-linecap="butt"/>
<line x1="623.0999999999999" y1="935.5" x2="670.5" y2="935.5" stroke="#000" stroke-width="3.4" stroke-linecap="butt"/>
<line x1="646.8" y1="928.6" x2="646.8" y2="935.5" stroke="#000" stroke-width="3" stroke-linecap="butt"/>
<rect x="500.3" y="1003.2" width="4.8" height="7.5" fill="#000"/>
<text transform="translate(502.7 1032) scale(1 1.12)" font-size="19.3" text-anchor="middle" font-weight="bold" stroke="#000" stroke-width="0.3">p8</text>
<rect x="644.2" y="1003.2" width="4.8" height="7.5" fill="#000"/>
<text transform="translate(646.6 1032) scale(1 1.12)" font-size="19.3" text-anchor="middle" font-weight="bold" stroke="#000" stroke-width="0.3">p15</text>
<circle cx="502.2" cy="837" r="3.8" fill="#000"/>
<circle cx="486.9" cy="864.2" r="3.8" fill="#000"/>
<circle cx="479.5" cy="877.4" r="3.8" fill="#000"/>
<circle cx="494.3" cy="877.4" r="3.8" fill="#000"/>
<circle cx="510" cy="877.4" r="3.8" fill="#000"/>
<circle cx="525.6" cy="878.2" r="3.8" fill="#000"/>
<circle cx="502.2" cy="887.2" r="3.8" fill="#000"/>
<circle cx="517.5" cy="866" r="3.8" fill="#000"/>
<circle cx="510" cy="870" r="3.8" fill="#000"/>
<rect x="643.0" y="907.1" width="7.4" height="7.4" fill="#000"/>
<rect x="627.7" y="919.4" width="7.4" height="7.4" fill="#000"/>
<rect x="643.0" y="919.4" width="7.4" height="7.4" fill="#000"/>
<rect x="658.1" y="922.1" width="7.4" height="7.4" fill="#000"/>
<rect x="612.2" y="931.4" width="7.4" height="7.4" fill="#000"/>
<rect x="627.7" y="933.1" width="7.4" height="7.4" fill="#000"/>
<rect x="643.0" y="934.7" width="7.4" height="7.4" fill="#000"/>
<rect x="658.1" y="934.7" width="7.4" height="7.4" fill="#000"/>
<rect x="673.4" y="928.2" width="7.4" height="7.4" fill="#000"/>
<rect x="643.0" y="963.8" width="7.4" height="7.4" fill="#000"/>
<path d="M502.2,824.7 L502.2,807.9 L646.7,807.9 L646.7,894.5" fill="none" stroke="#000" stroke-width="2.6"/>
<path d="M574.9,787.7 V796.3 M571.1,789.8 L578.6999999999999,794.2 M571.1,794.2 L578.6999999999999,789.8" stroke="#000" stroke-width="2.2" stroke-linecap="round"/>
<text transform="translate(389 909.2) rotate(-90)" font-size="19.4" text-anchor="middle" font-weight="bold" stroke="#000" stroke-width="0.25">pmol H<tspan font-size="12" dy="-6">+</tspan><tspan dy="6">/min/µg</tspan></text>
<text transform="translate(20.6 17.7)" font-size="23" text-anchor="start" font-weight="bold">A</text>
<text transform="translate(369.40000000000003 17)" font-size="23" text-anchor="start" font-weight="bold">B</text>
<text transform="translate(19.9 273)" font-size="23" text-anchor="start" font-weight="bold">C</text>
<text transform="translate(369.40000000000003 272.3)" font-size="23" text-anchor="start" font-weight="bold">D</text>
<text transform="translate(21.2 526.3)" font-size="23" text-anchor="start" font-weight="bold">E</text>
<text transform="translate(374.3 526.3)" font-size="23" text-anchor="start" font-weight="bold">F</text>
<text transform="translate(19.7 783.6)" font-size="23" text-anchor="start" font-weight="bold">G</text>
<text transform="translate(369.40000000000003 784.5)" font-size="23" text-anchor="start" font-weight="bold">H</text>
</svg></body></html>
